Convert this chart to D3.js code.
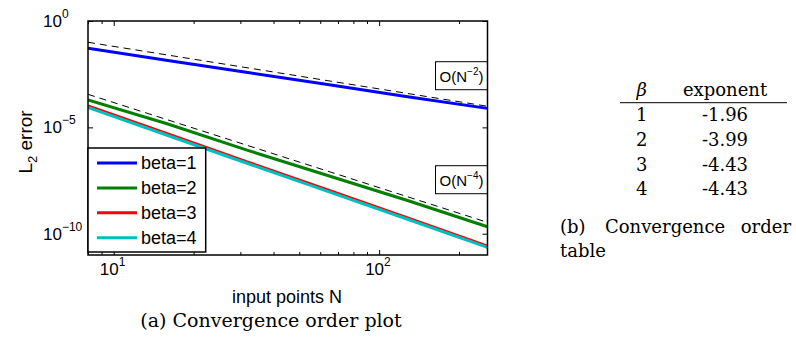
<!DOCTYPE html>
<html>
<head>
<meta charset="utf-8">
<script src="https://cdn.jsdelivr.net/npm/d3@7"></script>
<style>
  body { margin: 0; background: #fff; }
  svg { display: block; }
</style>
</head>
<body>
<svg id="fig" width="796" height="343"></svg>
<script>
// data
const inputSizes = [8, 16, 32, 64, 128, 256];
const seriesNames = ['beta=1', 'beta=2', 'beta=3', 'beta=4'];
const errBeta1 = [5.2e-2, 1.39e-2, 3.8e-3, 1.04e-3, 2.75e-4, 7.8e-5];
const errBeta2 = [1.93e-4, 1.44e-5, 8.3e-7, 5.45e-8, 3.64e-9, 2.13e-10];
const errBeta3 = [1.01e-4, 4.9e-6, 2.34e-7, 1.15e-8, 5.6e-10, 2.63e-11];
const errBeta4 = [8.6e-5, 4.14e-6, 2.0e-7, 9.8e-9, 4.8e-10, 2.29e-11];
const refSizes = [8, 256];
const refOrder2 = [1.0e-1, 9.8e-5];
const refOrder4 = [3.58e-4, 3.42e-10];
const refExponents = ['-2', '-4'];
const yTickExps = [0, -5, -10];
const xTickExps = [1, 2];
const tableBeta = ['1', '2', '3', '4'];
const tableExponent = ['-1.96', '-3.99', '-4.43', '-4.43'];

const colors = ['#0000ff', '#008000', '#ff0000', '#00bfbf'];
const sans = 'Liberation Sans, Arial, sans-serif';
const serif = 'DejaVu Serif, serif';

const svg = d3.select('#fig');
svg.append('rect').attr('width', 796).attr('height', 343).attr('fill', '#fff');

const margin = { left: 88, top: 21 };
const width = 399.5, height = 234;

const x = d3.scaleLog().domain([8, 256]).range([0, width]);
const y = d3.scaleLog().domain([1e-11, 1]).range([height, 0]);

const g = svg.append('g').attr('transform', `translate(${margin.left},${margin.top})`);

g.append('clipPath').attr('id', 'plotclip')
  .append('rect').attr('width', width).attr('height', height);

// ticks (inside, mirrored on all sides)
const majorX = xTickExps.map(e => Math.pow(10, e));
const minorX = x.ticks().filter(v => !majorX.includes(v));
const majorY = yTickExps.map(e => Math.pow(10, e));

function tickAxis(axis, tf) {
  const a = g.append('g').attr('transform', tf).call(axis);
  a.select('.domain').remove();
  a.selectAll('line').attr('stroke', '#000').attr('stroke-width', 1);
  a.selectAll('text').remove();
}
tickAxis(d3.axisBottom(x).tickValues(majorX).tickSizeInner(-5).tickSizeOuter(0), `translate(0,${height})`);
tickAxis(d3.axisBottom(x).tickValues(minorX).tickSizeInner(-3).tickSizeOuter(0), `translate(0,${height})`);
tickAxis(d3.axisTop(x).tickValues(majorX).tickSizeInner(-5).tickSizeOuter(0), 'translate(0,0)');
tickAxis(d3.axisTop(x).tickValues(minorX).tickSizeInner(-3).tickSizeOuter(0), 'translate(0,0)');
tickAxis(d3.axisLeft(y).tickValues(majorY).tickSizeInner(-5).tickSizeOuter(0), 'translate(0,0)');
tickAxis(d3.axisRight(y).tickValues(majorY).tickSizeInner(-5).tickSizeOuter(0), `translate(${width},0)`);

// tick labels 10^k
yTickExps.forEach(e => {
  const t = g.append('text')
    .attr('x', -45).attr('y', y(Math.pow(10, e)) + 6)
    .attr('font-family', sans).attr('font-size', 17).attr('fill', '#000');
  t.append('tspan').text('10');
  t.append('tspan').attr('dy', -9).attr('font-size', 12).text(e < 0 ? '\u2212' + (-e) : e);
});
xTickExps.forEach(e => {
  const t = g.append('text')
    .attr('x', x(Math.pow(10, e)) - 14).attr('y', height + 20)
    .attr('font-family', sans).attr('font-size', 17).attr('fill', '#000');
  t.append('tspan').text('10');
  t.append('tspan').attr('dy', -9).attr('font-size', 12).text(e);
});

// curves
const series = [errBeta1, errBeta2, errBeta3, errBeta4];
const line = d3.line().x(d => x(d[0])).y(d => y(d[1]));
const plot = g.append('g').attr('clip-path', 'url(#plotclip)');

[refOrder2, refOrder4].forEach(ref => {
  plot.append('path')
    .attr('d', line(refSizes.map((n, i) => [n, ref[i]])))
    .attr('fill', 'none').attr('stroke', '#000')
    .attr('stroke-width', 1).attr('stroke-dasharray', '7,5');
});

series.forEach((vals, k) => {
  plot.append('path')
    .attr('d', line(inputSizes.map((n, i) => [n, vals[i]])))
    .attr('fill', 'none').attr('stroke', colors[k])
    .attr('stroke-width', 3);
});

// O(N^-k) labels, boxed, against the right edge
const noteY = [40.7, 144.7];
refExponents.forEach((p, i) => {
  const bx = width - 52, by = noteY[i];
  g.append('rect').attr('x', bx).attr('y', by).attr('width', 52).attr('height', 28)
    .attr('fill', '#fff').attr('stroke', '#000').attr('stroke-width', 1);
  const t = g.append('text').attr('x', bx + 26).attr('y', by + 20)
    .attr('text-anchor', 'middle')
    .attr('font-family', sans).attr('font-size', 15).attr('fill', '#000');
  t.append('tspan').text('O(N');
  t.append('tspan').attr('dy', -7).attr('font-size', 10).text(p.replace('-', '\u2212'));
  t.append('tspan').attr('dy', 7).text(')');
});

// axes box
g.append('rect').attr('width', width).attr('height', height)
  .attr('fill', 'none').attr('stroke', '#000').attr('stroke-width', 1.5);

// legend
const leg = g.append('g').attr('transform', `translate(0,${127})`);
leg.append('rect').attr('width', 117.7).attr('height', 104)
  .attr('fill', '#fff').attr('stroke', '#000').attr('stroke-width', 1.5);
seriesNames.forEach((name, k) => {
  const yy = 15 + k * 24.9;
  leg.append('line').attr('x1', 9).attr('x2', 49).attr('y1', yy).attr('y2', yy)
    .attr('stroke', colors[k]).attr('stroke-width', 3);
  leg.append('text').attr('x', 53).attr('y', yy + 6)
    .attr('font-family', sans).attr('font-size', 18).attr('fill', '#000').text(name);
});

// axis labels
const yl = svg.append('text')
  .attr('transform', 'translate(32,142) rotate(-90)')
  .attr('text-anchor', 'middle')
  .attr('font-family', sans).attr('font-size', 19).attr('fill', '#000');
yl.append('tspan').text('L');
yl.append('tspan').attr('dy', 5).attr('font-size', 13).text('2');
yl.append('tspan').attr('dy', -5).text(' error');

svg.append('text').attr('x', 287).attr('y', 303)
  .attr('text-anchor', 'middle')
  .attr('font-family', sans).attr('font-size', 18).attr('fill', '#000')
  .text('input points N');

svg.append('text').attr('x', 271).attr('y', 327)
  .attr('text-anchor', 'middle')
  .attr('font-family', serif).attr('font-size', 19).attr('fill', '#000')
  .text('(a) Convergence order plot');

// table (b)
const tb = svg.append('g').attr('font-family', serif).attr('font-size', 18).attr('fill', '#000');
const colBeta = 641.7, colExp = 725;
tb.append('text').attr('x', colBeta).attr('y', 96).attr('text-anchor', 'middle')
  .attr('font-style', 'italic').text('\u03b2');
tb.append('text').attr('x', colExp).attr('y', 96).attr('text-anchor', 'middle').text('exponent');
tb.append('line').attr('x1', 620).attr('x2', 787).attr('y1', 102.7).attr('y2', 102.7)
  .attr('stroke', '#000').attr('stroke-width', 1);
tableBeta.forEach((b, i) => {
  const yy = 121 + i * 24.8;
  tb.append('text').attr('x', colBeta).attr('y', yy).attr('text-anchor', 'middle').text(b);
  tb.append('text').attr('x', colExp).attr('y', yy).attr('text-anchor', 'middle').text(tableExponent[i]);
});

// caption (b), justified first line
tb.append('text').attr('x', 560).attr('y', 233).text('(b)');
tb.append('text').attr('x', 605).attr('y', 233).text('Convergence');
tb.append('text').attr('x', 791).attr('y', 233).attr('text-anchor', 'end').text('order');
tb.append('text').attr('x', 560).attr('y', 257).text('table');
</script>
</body>
</html>
